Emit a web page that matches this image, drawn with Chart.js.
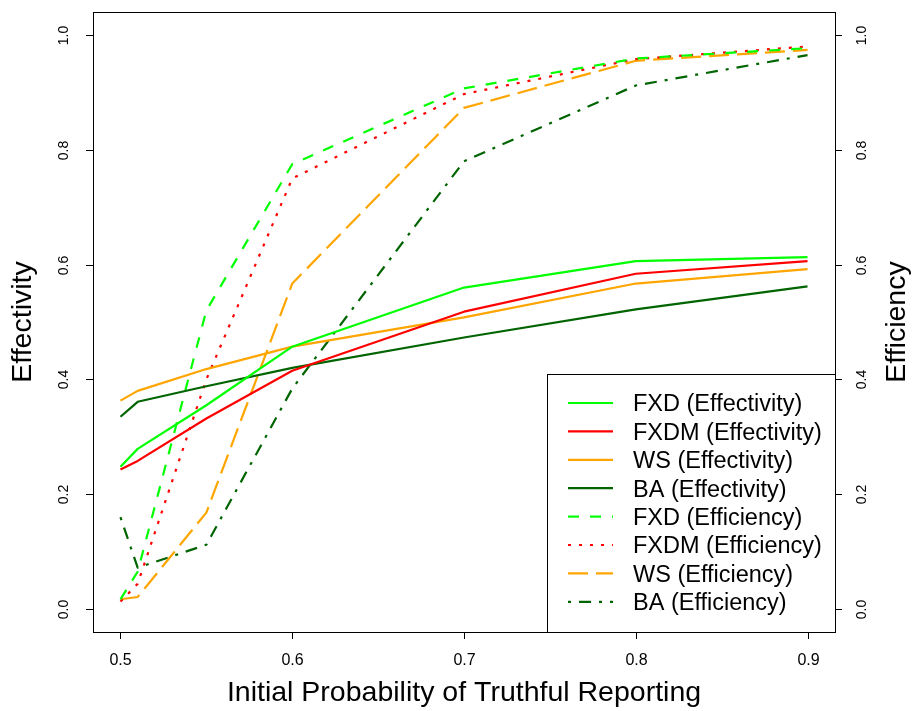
<!DOCTYPE html>
<html>
<head>
<meta charset="utf-8">
<script src="https://cdn.jsdelivr.net/npm/chart.js@4/dist/chart.umd.min.js"></script>
<style>
html,body{margin:0;padding:0;background:#fff;}
canvas{display:block;}
</style>
</head>
<body>
<canvas id="c" width="914" height="711"></canvas>
<script>
// ---- data ----
const probs = [0.5, 0.51, 0.55, 0.6, 0.7, 0.8, 0.9];
const fxdEffectivity  = [0.248, 0.279, 0.355, 0.457, 0.560, 0.606, 0.613];
const fxdmEffectivity = [0.243, 0.258, 0.332, 0.415, 0.518, 0.584, 0.606];
const wsEffectivity   = [0.363, 0.380, 0.418, 0.457, 0.508, 0.567, 0.592];
const baEffectivity   = [0.335, 0.361, 0.388, 0.420, 0.473, 0.522, 0.562];
const fxdEfficiency   = [0.017, 0.065, 0.520, 0.775, 0.907, 0.959, 0.977];
const fxdmEfficiency  = [0.013, 0.044, 0.400, 0.750, 0.897, 0.958, 0.980];
const wsEfficiency    = [0.017, 0.021, 0.168, 0.567, 0.873, 0.955, 0.974];
const baEfficiency    = [0.160, 0.072, 0.112, 0.384, 0.780, 0.912, 0.965];
const seriesLabels = ["FXD (Effectivity)", "FXDM (Effectivity)", "WS (Effectivity)", "BA (Effectivity)",
                      "FXD (Efficiency)", "FXDM (Efficiency)", "WS (Efficiency)", "BA (Efficiency)"];
const xTicks = [0.5, 0.6, 0.7, 0.8, 0.9];
const yTicks = [0.0, 0.2, 0.4, 0.6, 0.8, 1.0];
const xTitle = "Initial Probability of Truthful Reporting";
const yLeftTitle = "Effectivity";
const yRightTitle = "Efficiency";

// ---- styles ----
const GREEN = "#00FF00", RED = "#FF0000", ORANGE = "#FFA500", DKGREEN = "#006400";
const FONT = "'Liberation Sans', Arial, sans-serif";

function pts(vals){ return probs.map((p,i)=>({x:p, y:vals[i]})); }
function ds(label, vals, color, dash, axis){
  return {label, data: pts(vals), borderColor: color, backgroundColor: color,
    borderWidth: 2.2, borderDash: dash, pointRadius: 0, tension: 0, fill: false,
    yAxisID: axis, borderCapStyle: 'butt', borderJoinStyle: 'round'};
}
const datasets = [
  ds(seriesLabels[0], fxdEffectivity, GREEN, [], 'y'),
  ds(seriesLabels[1], fxdmEffectivity, RED, [], 'y'),
  ds(seriesLabels[2], wsEffectivity, ORANGE, [], 'y'),
  ds(seriesLabels[3], baEffectivity, DKGREEN, [], 'y'),
  ds(seriesLabels[4], fxdEfficiency, GREEN, [11, 11], 'y1'),
  ds(seriesLabels[5], fxdmEfficiency, RED, [3, 8], 'y1'),
  ds(seriesLabels[6], wsEfficiency, ORANGE, [20, 8], 'y1'),
  ds(seriesLabels[7], baEfficiency, DKGREEN, [3, 8, 12, 8], 'y1'),
];

const frame = {
  id: 'frame',
  beforeDraw(chart){
    const ctx = chart.ctx;
    ctx.save(); ctx.fillStyle = '#fff'; ctx.fillRect(0,0,chart.width,chart.height); ctx.restore();
  },
  afterDraw(chart){
    const ctx = chart.ctx, a = chart.chartArea;
    const sx = chart.scales.x, sy = chart.scales.y, sy1 = chart.scales.y1;
    ctx.save();
    ctx.strokeStyle = '#000'; ctx.lineWidth = 1; ctx.setLineDash([]);
    ctx.strokeRect(Math.round(a.left)+0.5, Math.round(a.top)+0.5, Math.round(a.right-a.left), Math.round(a.bottom-a.top));
    ctx.fillStyle = '#000';
    // x axis
    ctx.font = "16px " + FONT; ctx.textAlign = 'center'; ctx.textBaseline = 'middle';
    xTicks.forEach(v=>{
      const px = Math.round(sx.getPixelForValue(v)) + 0.5;
      ctx.beginPath(); ctx.moveTo(px, a.bottom); ctx.lineTo(px, a.bottom+7); ctx.stroke();
      ctx.fillText(v.toFixed(1), px, a.bottom + 29);
    });
    // y axes
    yTicks.forEach(v=>{
      const py = Math.round(sy.getPixelForValue(v)) + 0.5;
      ctx.beginPath(); ctx.moveTo(a.left, py); ctx.lineTo(a.left-7, py); ctx.stroke();
      const py1 = Math.round(sy1.getPixelForValue(v)) + 0.5;
      ctx.beginPath(); ctx.moveTo(a.right, py1); ctx.lineTo(a.right+7, py1); ctx.stroke();
      ctx.font = "14px " + FONT;
      ctx.save(); ctx.translate(a.left - 29, py); ctx.rotate(-Math.PI/2);
      ctx.fillText(v.toFixed(1), 0, 0); ctx.restore();
      ctx.save(); ctx.translate(a.right + 27, py1); ctx.rotate(-Math.PI/2);
      ctx.fillText(v.toFixed(1), 0, 0); ctx.restore();
    });
    // titles
    ctx.font = "28.5px " + FONT;
    ctx.fillText(xTitle, (a.left+a.right)/2, a.bottom + 61);
    const cy = (a.top + a.bottom)/2;
    ctx.save(); ctx.translate(23, cy); ctx.rotate(-Math.PI/2); ctx.fillText(yLeftTitle, 0, 0); ctx.restore();
    ctx.save(); ctx.translate(897, cy); ctx.rotate(-Math.PI/2); ctx.fillText(yRightTitle, 0, 0); ctx.restore();
    // legend
    const lx = 547.5, ly = 374.5;
    ctx.fillStyle = '#fff';
    ctx.fillRect(lx, ly, a.right - lx, a.bottom - ly);
    ctx.strokeRect(lx, ly, Math.round(a.right) + 0.5 - lx, Math.round(a.bottom) + 0.5 - ly);
    ctx.font = "23.5px " + FONT; ctx.textAlign = 'left'; ctx.textBaseline = 'middle';
    chart.data.datasets.forEach((d,i)=>{
      const ry = 403 + i*28.4;
      ctx.strokeStyle = d.borderColor; ctx.lineWidth = d.borderWidth;
      ctx.setLineDash(d.borderDash); ctx.lineCap = 'butt';
      ctx.beginPath(); ctx.moveTo(568, ry); ctx.lineTo(613, ry); ctx.stroke();
      ctx.setLineDash([]);
      ctx.fillStyle = '#000';
      ctx.fillText(d.label, 633, ry + 2);
    });
    ctx.restore();
  }
};

new Chart(document.getElementById('c'), {
  type: 'line',
  data: { datasets },
  options: {
    responsive: false, animation: false, devicePixelRatio: 1,
    layout: { padding: { left: 93, right: 79, top: 12, bottom: 79 } },
    plugins: { legend: { display: false }, tooltip: { enabled: false } },
    scales: {
      x: { type: 'linear', min: 0.484, max: 0.916, display: false },
      y: { type: 'linear', min: -0.04, max: 1.04, display: false, position: 'left' },
      y1: { type: 'linear', min: -0.04, max: 1.04, display: false, position: 'right' }
    }
  },
  plugins: [frame]
});
</script>
</body>
</html>
